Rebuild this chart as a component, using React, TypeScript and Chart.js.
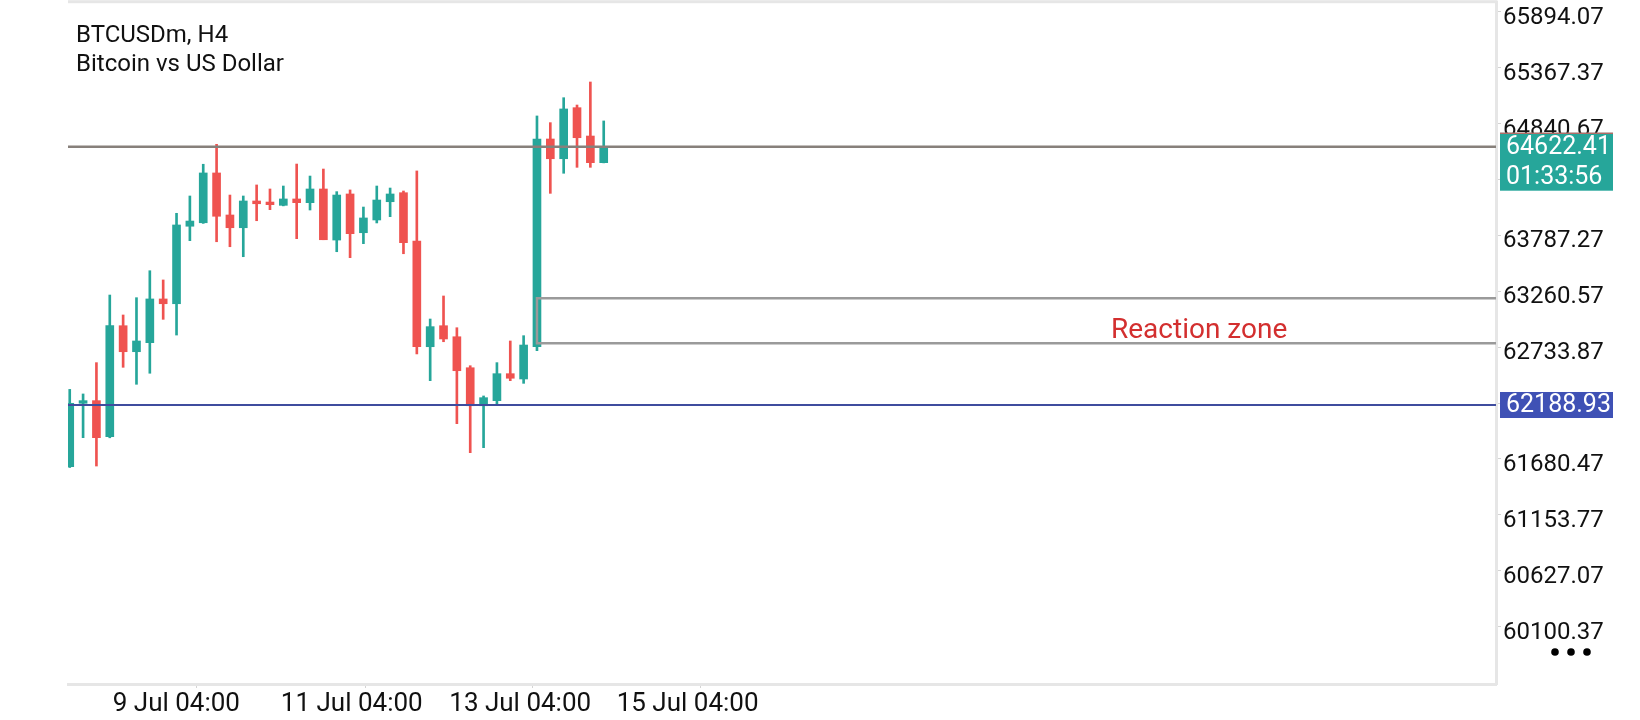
import React, { useEffect, useRef } from 'react';
import { Chart, registerables } from 'chart.js';

Chart.register(...registerables);

// ---------- data ----------
const SYMBOL = 'BTCUSDm, H4';
const DESCRIPTION = 'Bitcoin vs US Dollar';

const OPEN = [
  61608, 62205, 62230, 61890, 62936, 62691, 62776, 63188, 63143, 63873,
  63906, 64375, 63979, 63859, 64111, 64101, 64070, 64130, 64095, 64224,
  63743, 64177, 63812, 63932, 64104, 64189, 63734, 62738, 62936, 62832,
  62540, 62182, 62230, 62484, 62434, 62738, 64695, 64509, 64990, 64723,
  64472,
];
const HIGH = [
  62336, 62293, 62588, 63225, 63037, 63200, 63454, 63367, 63995, 64158,
  64457, 64645, 64167, 64158, 64262, 64224, 64252, 64459, 64346, 64412,
  64199, 64215, 64054, 64252, 64233, 64205, 64394, 62999, 63216, 62917,
  62559, 62274, 62588, 62792, 62842, 64912, 64849, 65084, 65015, 65232,
  64865,
];
const LOW = [
  61600, 61881, 61614, 61880, 62544, 62384, 62488, 62996, 62848, 63737,
  63900, 63727, 63680, 63586, 63925, 64029, 64065, 63756, 64026, 63746,
  63633, 63577, 63709, 63904, 63963, 63614, 62670, 62418, 62785, 62013,
  61740, 61787, 62189, 62418, 62393, 62701, 64183, 64372, 64428, 64428,
  64470,
];
const CLOSE = [
  62205, 62230, 61881, 62936, 62691, 62792, 63188, 63143, 63885, 63922,
  64375, 63967, 63859, 64111, 64085, 64076, 64130, 64095, 64224, 63746,
  64167, 63803, 63951, 64120, 64177, 63718, 62738, 62927, 62811, 62512,
  62182, 62258, 62484, 62441, 62754, 64695, 64509, 64978, 64707, 64472,
  64622.41,
];

const PRICE_TICKS = [
  60100.37, 60627.07, 61153.77, 61680.47, 62207.17, 62733.87,
  63260.57, 63787.27, 64313.97, 64840.67, 65367.37, 65894.07,
];
const PRICE_STEP = 526.7;
const TIME_TICK_POS = [3.22, 15.81, 28.43, 40.97];
const TIME_TICK_LABELS = ['9 Jul 04:00', '11 Jul 04:00', '13 Jul 04:00', '15 Jul 04:00'];

const BID_PRICE = 64622.41;
const BAR_TIMER = '01:33:56';
const LEVEL_PRICE = 62188.93;
const ZONE_TOP = 63194;
const ZONE_BOTTOM = 62770;
const ZONE_START = 35;
const ZONE_LABEL = 'Reaction zone';

const X_MIN = -0.13;
const X_MAX = 106.84;
const Y_MIN = 59560.5;
const Y_MAX = 65985.6;

// ---------- style ----------
const TEAL = '#26a69a';
const RED = '#ef5350';
const BLUE_LINE = '#3f4c9e';
const BLUE_BOX = '#3f51b5';
const ZONE_GRAY = '#9a9a9a';
const BID_GRAY = '#87807b';
const FRAME = '#e6e6e6';
const FONT = 'Roboto, "Noto Sans", sans-serif';

const INDEX = OPEN.map((_, i) => i);

// labels hidden behind the price boxes
const hiddenByBox = (v: number) =>
  (v < BID_PRICE && BID_PRICE - v < PRICE_STEP) || Math.abs(v - LEVEL_PRICE) < PRICE_STEP / 2;

export default function App() {
  const ref = useRef<HTMLCanvasElement>(null);

  useEffect(() => {
    document.body.style.margin = '0';
    const canvas = ref.current;
    if (!canvas) return;

    const colors = INDEX.map((i) => (CLOSE[i] >= OPEN[i] ? TEAL : RED));

    const overlay = {
      id: 'overlay',
      afterDraw(chart: any) {
        const { ctx, chartArea } = chart;
        const y = chart.scales.y;
        ctx.save();

        // top frame line
        ctx.fillStyle = FRAME;
        ctx.fillRect(chartArea.left, 0.2, chartArea.right - chartArea.left + 1.5, 3);

        // title
        ctx.fillStyle = '#111';
        ctx.font = `24px ${FONT}`;
        ctx.textAlign = 'left';
        ctx.textBaseline = 'alphabetic';
        ctx.fillText(SYMBOL, 76, 42);
        ctx.fillText(DESCRIPTION, 76, 71);

        // reaction zone label
        const zb = y.getPixelForValue(ZONE_BOTTOM);
        ctx.fillStyle = '#d32f2f';
        ctx.font = `28px ${FONT}`;
        ctx.fillText(ZONE_LABEL, 1111, zb - 5);

        // bid price box
        const by = y.getPixelForValue(BID_PRICE);
        const bx = chartArea.right + 4;
        const bw = 113;
        ctx.fillStyle = TEAL;
        ctx.fillRect(bx, by - 14, bw, 58);
        ctx.fillStyle = RED;
        ctx.fillRect(bx, by - 14, bw, 1);
        ctx.fillStyle = '#ffffff';
        ctx.font = `25px ${FONT}`;
        ctx.textBaseline = 'middle';
        ctx.fillText(BID_PRICE.toFixed(2), bx + 6, by + 1);
        ctx.fillText(BAR_TIMER, bx + 6, by + 31);

        // level price box
        const ly = y.getPixelForValue(LEVEL_PRICE);
        ctx.fillStyle = BLUE_BOX;
        ctx.fillRect(bx, ly - 13, bw, 26);
        ctx.fillStyle = '#ffffff';
        ctx.fillText(LEVEL_PRICE.toFixed(2), bx + 6, ly + 1);

        // menu dots
        ctx.fillStyle = '#000';
        [1555, 1571, 1587].forEach((cx) => {
          ctx.beginPath();
          ctx.arc(cx, 652, 3.8, 0, Math.PI * 2);
          ctx.fill();
        });

        ctx.restore();
      },
    };

    const chart = new Chart(canvas, {
      type: 'bar',
      data: {
        datasets: [
          {
            type: 'line',
            label: 'zone',
            data: [
              { x: X_MAX, y: ZONE_TOP },
              { x: ZONE_START, y: ZONE_TOP },
              { x: ZONE_START, y: ZONE_BOTTOM },
              { x: X_MAX, y: ZONE_BOTTOM },
            ],
            borderColor: ZONE_GRAY,
            borderWidth: 2.5,
            pointRadius: 0,
            tension: 0,
            fill: false,
            order: 0,
          } as any,
          {
            type: 'line',
            label: 'bid',
            data: [
              { x: X_MIN, y: BID_PRICE },
              { x: X_MAX, y: BID_PRICE },
            ],
            borderColor: BID_GRAY,
            borderWidth: 2.5,
            pointRadius: 0,
            fill: false,
            order: 0,
          } as any,
          {
            type: 'line',
            label: 'level',
            data: [
              { x: X_MIN, y: LEVEL_PRICE },
              { x: X_MAX, y: LEVEL_PRICE },
            ],
            borderColor: BLUE_LINE,
            borderWidth: 2,
            pointRadius: 0,
            fill: false,
            order: 0,
          } as any,
          {
            label: 'bodies',
            data: INDEX.map((i) => ({ x: i, y: [OPEN[i], CLOSE[i]] })),
            backgroundColor: colors,
            barThickness: 8,
            grouped: false,
            minBarLength: 2,
            borderWidth: 0,
            order: 1,
          } as any,
          {
            label: 'wicks',
            data: INDEX.map((i) => ({ x: i, y: [LOW[i], HIGH[i]] })),
            backgroundColor: colors,
            barThickness: 2,
            grouped: false,
            borderWidth: 0,
            order: 2,
          } as any,
        ],
      },
      options: {
        responsive: false,
        animation: false,
        events: [],
        layout: { padding: { left: 68, top: 2, right: 0, bottom: 0 } },
        plugins: {
          legend: { display: false },
          tooltip: { enabled: false },
          title: { display: false },
        },
        scales: {
          x: {
            type: 'linear',
            position: 'bottom',
            min: X_MIN,
            max: X_MAX,
            offset: false,
            afterBuildTicks: (scale: any) => {
              scale.ticks = TIME_TICK_POS.map((v) => ({ value: v }));
            },
            afterFit: (scale: any) => {
              scale.height = 36;
              scale.paddingLeft = 0;
              scale.paddingRight = 0;
            },
            ticks: {
              autoSkip: false,
              maxRotation: 0,
              minRotation: 0,
              align: 'start',
              padding: 1,
              color: '#111',
              font: { family: FONT, size: 26 },
              callback: (_v: any, i: number) => TIME_TICK_LABELS[i],
            },
            grid: {
              display: true,
              drawOnChartArea: false,
              drawTicks: true,
              tickLength: 4,
              color: '#d4d4d4',
              lineWidth: 1,
            },
            border: { display: true, color: FRAME, width: 3 },
          },
          y: {
            type: 'linear',
            position: 'right',
            min: Y_MIN,
            max: Y_MAX,
            afterBuildTicks: (scale: any) => {
              scale.ticks = PRICE_TICKS.map((v) => ({ value: v }));
            },
            afterFit: (scale: any) => {
              scale.width = 144;
              scale.paddingTop = 0;
              scale.paddingBottom = 0;
            },
            ticks: {
              autoSkip: false,
              padding: 2,
              labelOffset: 6,
              color: '#111',
              font: { family: FONT, size: 24 },
              callback: (v: any) => (hiddenByBox(Number(v)) ? '' : Number(v).toFixed(2)),
            },
            grid: {
              display: true,
              drawOnChartArea: false,
              drawTicks: true,
              tickLength: 5,
              color: '#d4d4d4',
              lineWidth: 1,
            },
            border: { display: true, color: FRAME, width: 3 },
          },
        },
      },
      plugins: [overlay],
    });

    return () => chart.destroy();
  }, []);

  return (
    <div style={{ position: 'relative', width: 1640, height: 720, background: '#fff' }}>
      <canvas
        ref={ref}
        width={1640}
        height={720}
        style={{ display: 'block', width: 1640, height: 720 }}
      />
    </div>
  );
}
